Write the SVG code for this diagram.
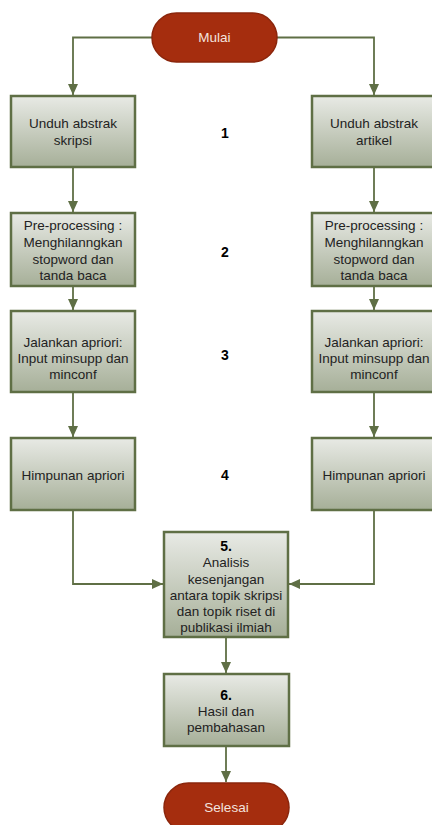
<svg xmlns="http://www.w3.org/2000/svg" width="432" height="825" viewBox="0 0 432 825">
  <defs>
    <linearGradient id="boxGrad" x1="0" y1="0" x2="0" y2="1">
      <stop offset="0" stop-color="#e8eae5"/>
      <stop offset="1" stop-color="#a6af98"/>
    </linearGradient>
    <marker id="arr" markerUnits="userSpaceOnUse" markerWidth="11" markerHeight="11" viewBox="0 0 11 10" refX="11" refY="5" orient="auto">
      <path d="M0,0 L11,5 L0,10 Z" fill="#5f6f45"/>
    </marker>
    <style>
      .box { fill: url(#boxGrad); stroke: #5f6f45; stroke-width: 2.5; }
      .term { fill: #a52d0e; stroke: #8b260c; stroke-width: 1.5; }
      .conn { fill: none; stroke: #5f6f45; stroke-width: 1.8; marker-end: url(#arr); }
      .t { font-family: "Liberation Sans", Arial, sans-serif; font-size: 13.5px; fill: #222; text-anchor: middle; }
      .tw { font-family: "Liberation Sans", Arial, sans-serif; font-size: 13.5px; fill: #f3e3de; text-anchor: middle; }
      .num { font-family: "Liberation Sans", Arial, sans-serif; font-size: 14px; font-weight: bold; fill: #000; text-anchor: middle; }
    </style>
  </defs>
  <rect width="432" height="825" fill="#ffffff"/>

  <g id="connectors">
    <polyline class="conn" points="152,37.5 73,37.5 73,95"/>
    <polyline class="conn" points="277,37.5 374,37.5 374,95"/>
    <line class="conn" x1="73" y1="168" x2="73" y2="212"/>
    <line class="conn" x1="374" y1="168" x2="374" y2="212"/>
    <line class="conn" x1="73" y1="287" x2="73" y2="310"/>
    <line class="conn" x1="374" y1="287" x2="374" y2="310"/>
    <line class="conn" x1="73" y1="393" x2="73" y2="437"/>
    <line class="conn" x1="374" y1="393" x2="374" y2="437"/>
    <polyline class="conn" points="73,511 73,584 163,584"/>
    <polyline class="conn" points="374,511 374,584 289,584"/>
    <line class="conn" x1="226" y1="638" x2="226" y2="673"/>
    <line class="conn" x1="226" y1="747" x2="226" y2="782"/>
  </g>

  <g id="mulai">
    <rect class="term" x="152" y="13" width="125" height="49" rx="24.5"/>
    <text class="tw" x="214.5" y="42">Mulai</text>
  </g>

  <g id="unduh-skripsi">
    <rect class="box" x="11" y="96" width="124" height="71"/>
    <text class="t" x="73" y="128">Unduh abstrak</text>
    <text class="t" x="73" y="144.5">skripsi</text>
  </g>
  <g id="unduh-artikel">
    <rect class="box" x="312" y="96" width="124" height="71"/>
    <text class="t" x="374" y="128">Unduh abstrak</text>
    <text class="t" x="374" y="144.5">artikel</text>
  </g>
  <g id="label-1"><text class="num" x="225" y="138">1</text></g>

  <g id="preproc-skripsi">
    <rect class="box" x="11" y="213" width="124" height="73"/>
    <text class="t" x="73" y="229.5">Pre-processing :</text>
    <text class="t" x="73" y="246.5">Menghilanngkan</text>
    <text class="t" x="73" y="263.5">stopword dan</text>
    <text class="t" x="73" y="279.5">tanda baca</text>
  </g>
  <g id="preproc-artikel">
    <rect class="box" x="312" y="213" width="124" height="73"/>
    <text class="t" x="374" y="229.5">Pre-processing :</text>
    <text class="t" x="374" y="246.5">Menghilanngkan</text>
    <text class="t" x="374" y="263.5">stopword dan</text>
    <text class="t" x="374" y="279.5">tanda baca</text>
  </g>
  <g id="label-2"><text class="num" x="225" y="257">2</text></g>

  <g id="apriori-skripsi">
    <rect class="box" x="11" y="311" width="124" height="81"/>
    <text class="t" x="73" y="346.5">Jalankan apriori:</text>
    <text class="t" x="73" y="362.5">Input minsupp dan</text>
    <text class="t" x="73" y="378.5">minconf</text>
  </g>
  <g id="apriori-artikel">
    <rect class="box" x="312" y="311" width="124" height="81"/>
    <text class="t" x="374" y="346.5">Jalankan apriori:</text>
    <text class="t" x="374" y="362.5">Input minsupp dan</text>
    <text class="t" x="374" y="378.5">minconf</text>
  </g>
  <g id="label-3"><text class="num" x="225" y="360">3</text></g>

  <g id="himpunan-skripsi">
    <rect class="box" x="11" y="438" width="124" height="72"/>
    <text class="t" x="73" y="479.5">Himpunan apriori</text>
  </g>
  <g id="himpunan-artikel">
    <rect class="box" x="312" y="438" width="124" height="72"/>
    <text class="t" x="374" y="479.5">Himpunan apriori</text>
  </g>
  <g id="label-4"><text class="num" x="225" y="480">4</text></g>

  <g id="analisis">
    <rect class="box" x="164" y="532" width="124" height="105"/>
    <text class="num" x="226" y="551">5.</text>
    <text class="t" x="226" y="567">Analisis</text>
    <text class="t" x="226" y="583.5">kesenjangan</text>
    <text class="t" x="226" y="600">antara topik skripsi</text>
    <text class="t" x="226" y="616">dan topik riset di</text>
    <text class="t" x="226" y="631.5">publikasi ilmiah</text>
  </g>

  <g id="hasil">
    <rect class="box" x="164" y="674" width="125" height="72"/>
    <text class="num" x="226" y="700">6.</text>
    <text class="t" x="226" y="716">Hasil dan</text>
    <text class="t" x="226" y="732">pembahasan</text>
  </g>

  <g id="selesai">
    <rect class="term" x="164" y="783" width="125" height="49" rx="24.5"/>
    <text class="tw" x="226.5" y="812">Selesai</text>
  </g>
</svg>
